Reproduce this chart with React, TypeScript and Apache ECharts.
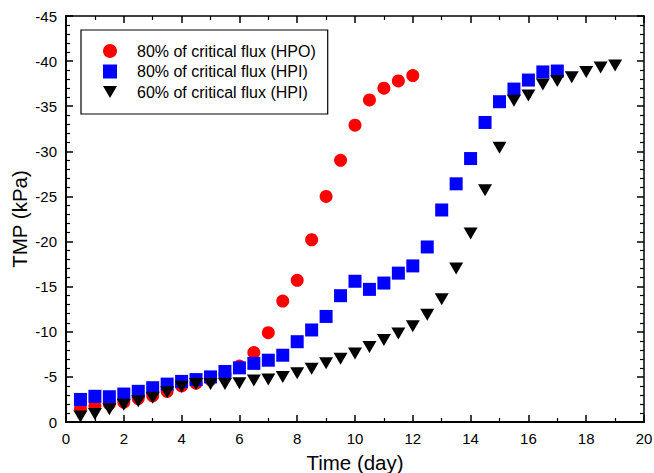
import React, { useEffect, useRef } from "react";
import * as echarts from "echarts";

const FONT = 'Arial, "Liberation Sans", Helvetica, sans-serif';

// Time (day)
const timeHPO = [0.5, 1, 1.5, 2, 2.5, 3, 3.5, 4, 4.5, 5, 5.5, 6, 6.5, 7, 7.5, 8, 8.5, 9, 9.5, 10, 10.5, 11, 11.5, 12];
const tmpHPO80 = [-1.5, -1.8, -2.0, -2.2, -2.6, -2.9, -3.4, -4.0, -4.3, -4.7, -5.3, -6.2, -7.7, -9.9, -13.4, -15.7, -20.2, -25.0, -29.0, -32.9, -35.7, -37.0, -37.8, -38.4];

const timeHPI80 = [0.5, 1, 1.5, 2, 2.5, 3, 3.5, 4, 4.5, 5, 5.5, 6, 6.5, 7, 7.5, 8, 8.5, 9, 9.5, 10, 10.5, 11, 11.5, 12, 12.5, 13, 13.5, 14, 14.5, 15, 15.5, 16, 16.5, 17];
const tmpHPI80 = [-2.5, -2.85, -2.8, -3.1, -3.4, -3.8, -4.2, -4.5, -4.7, -5.0, -5.6, -6.0, -6.5, -6.85, -7.4, -8.9, -10.2, -11.7, -14.0, -15.6, -14.7, -15.4, -16.5, -17.3, -19.4, -23.5, -26.4, -29.2, -33.2, -35.5, -36.9, -37.9, -38.8, -38.9];

const timeHPI60 = [0.5, 1, 1.5, 2, 2.5, 3, 3.5, 4, 4.5, 5, 5.5, 6, 6.5, 7, 7.5, 8, 8.5, 9, 9.5, 10, 10.5, 11, 11.5, 12, 12.5, 13, 13.5, 14, 14.5, 15, 15.5, 16, 16.5, 17, 17.5, 18, 18.5, 19];
const tmpHPI60 = [-0.6, -0.9, -1.4, -1.9, -2.3, -2.7, -3.3, -3.9, -4.2, -4.2, -4.2, -4.3, -4.6, -4.7, -5.0, -5.4, -5.9, -6.5, -7.0, -7.6, -8.3, -9.1, -9.8, -10.6, -11.9, -13.6, -17.0, -20.9, -25.7, -30.4, -35.6, -36.2, -37.4, -37.8, -38.2, -38.8, -39.3, -39.5];

const seriesNames = [
  "80% of critical flux (HPO)",
  "80% of critical flux (HPI)",
  "60% of critical flux (HPI)",
];

const X_MIN = 0, X_MAX = 20, X_STEP = 2;
const Y_MIN = -45, Y_MAX = 0, Y_STEP = 5;

const SQUARE = "path://M0,0L10,0L10,10L0,10Z";
const TRIANGLE = "path://M0,0L14,0L7,12Z";

function zip(xs: number[], ys: number[]) {
  return xs.map((x, i) => [x, ys[i]]);
}

export default function App() {
  const ref = useRef<HTMLDivElement>(null);
  useEffect(() => {
    if (!ref.current) return;
    const chart = echarts.init(ref.current, undefined, { renderer: "svg" });
    const axisLineMain = { show: true, onZero: false, lineStyle: { color: "#000", width: 2 } };
    const axisLineMirror = { show: true, onZero: false, lineStyle: { color: "#000", width: 1.5 } };
    const tick = { show: true, inside: true, length: 7, lineStyle: { color: "#000", width: 1.5 } };
    const minor = (n: number) => ({ show: true, splitNumber: n, length: 4, lineStyle: { color: "#000", width: 1.2 } });
    const labelStyle = { color: "#000", fontSize: 15, fontFamily: FONT };
    chart.setOption({
      animation: false,
      backgroundColor: "#fff",
      grid: { left: 66, right: 10, top: 16, bottom: 51, containLabel: false, outerBoundsMode: "none" },
      legend: {
        left: 81,
        top: 30,
        orient: "vertical",
        borderColor: "#000",
        borderWidth: 1.2,
        padding: [13, 12, 14, 22],
        itemWidth: 14,
        itemHeight: 14,
        itemGap: 4.5,
        symbolKeepAspect: true,
        textStyle: { color: "#000", fontSize: 16, fontFamily: FONT, padding: [0, 0, 0, 15] },
        data: [
          { name: seriesNames[0], icon: "circle" },
          { name: seriesNames[1], icon: SQUARE },
          { name: seriesNames[2], icon: TRIANGLE },
        ],
      },
      xAxis: [
        {
          type: "value",
          min: X_MIN,
          max: X_MAX,
          interval: X_STEP,
          position: "bottom",
          name: "Time (day)",
          nameLocation: "middle",
          nameGap: 30,
          nameTextStyle: { color: "#000", fontSize: 20.5, fontFamily: FONT },
          axisLine: axisLineMain,
          axisTick: tick,
          minorTick: minor(2),
          axisLabel: { ...labelStyle, margin: 9 },
          splitLine: { show: false },
        },
        {
          type: "value",
          min: X_MIN,
          max: X_MAX,
          interval: X_STEP,
          position: "top",
          axisLine: axisLineMirror,
          axisTick: tick,
          minorTick: minor(2),
          axisLabel: { show: false },
          splitLine: { show: false },
        },
      ],
      yAxis: [
        {
          type: "value",
          min: Y_MIN,
          max: Y_MAX,
          interval: Y_STEP,
          inverse: true,
          position: "left",
          name: "TMP (kPa)",
          nameLocation: "middle",
          nameGap: 36,
          nameMoveOverlap: false,
          nameTextStyle: { color: "#000", fontSize: 20.5, fontFamily: FONT },
          axisLine: axisLineMain,
          axisTick: tick,
          minorTick: minor(5),
          axisLabel: { ...labelStyle, margin: 9 },
          splitLine: { show: false },
        },
        {
          type: "value",
          min: Y_MIN,
          max: Y_MAX,
          interval: Y_STEP,
          inverse: true,
          position: "right",
          axisLine: axisLineMirror,
          axisTick: tick,
          minorTick: minor(5),
          axisLabel: { show: false },
          splitLine: { show: false },
        },
      ],
      series: [
        {
          name: seriesNames[0],
          type: "scatter",
          xAxisIndex: 0,
          yAxisIndex: 0,
          symbol: "circle",
          symbolSize: 13,
          itemStyle: { color: "#ff0000", opacity: 1 },
          data: zip(timeHPO, tmpHPO80),
        },
        {
          name: seriesNames[1],
          type: "scatter",
          xAxisIndex: 0,
          yAxisIndex: 0,
          symbol: SQUARE,
          symbolSize: 13,
          itemStyle: { color: "#0000ff", opacity: 1 },
          data: zip(timeHPI80, tmpHPI80),
        },
        {
          name: seriesNames[2],
          type: "scatter",
          xAxisIndex: 0,
          yAxisIndex: 0,
          symbol: TRIANGLE,
          symbolSize: [14, 12],
          itemStyle: { color: "#000000", opacity: 1 },
          data: zip(timeHPI60, tmpHPI60),
        },
      ],
    });
    return () => chart.dispose();
  }, []);
  return (
    <div
      ref={ref}
      style={{ position: "fixed", left: 0, top: 0, width: 654, height: 473, background: "#fff" }}
    />
  );
}
